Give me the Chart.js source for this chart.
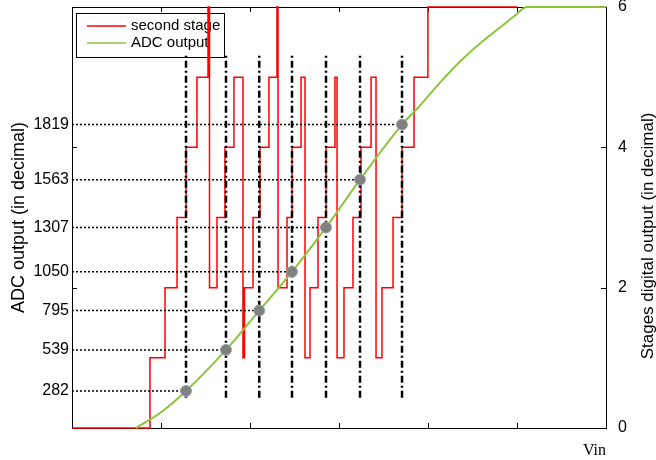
<!DOCTYPE html>
<html>
<head>
<meta charset="utf-8">
<script src="https://cdn.jsdelivr.net/npm/chart.js@4"></script>
<style>
  html, body { margin: 0; padding: 0; background: #fff; }
  canvas { display: block; }
</style>
</head>
<body>
<canvas id="adcChart" width="656" height="460"></canvas>
<script>
// second stage output: start of each step (Vin) and its level
const stageX = [0, 0.876, 1.045, 1.180, 1.281, 1.404, 1.528, 1.545, 1.629, 1.719, 1.820,
    1.921, 1.938, 2.034, 2.112, 2.213, 2.303, 2.315, 2.416, 2.472, 2.573,
    2.618, 2.674, 2.764, 2.854, 2.955, 2.978, 3.056, 3.157, 3.247, 3.360,
    3.416, 3.483, 3.607, 3.708, 3.843, 3.999, 5.0];
const stageLevel = [0, 1, 2, 3, 4, 5, 6, 2, 3, 4, 5,
    1, 2, 3, 4, 5, 6, 2, 3, 4, 5,
    1, 2, 3, 4, 5, 1, 2, 3, 4, 5,
    1, 2, 3, 4, 5, 6, 6];

// ADC output curve
const adcX = [0.719, 0.989, 1.281, 1.730, 2.104, 2.472, 2.854, 3.236, 3.708, 3.910, 4.135, 4.360, 4.584, 4.809, 4.978, 5.112, 6];
const adcY = [0, 0.214, 0.528, 1.113, 1.674, 2.226, 2.858, 3.539, 4.324, 4.595, 4.923, 5.223, 5.479, 5.708, 5.879, 6, 6];

// sampled points and their decimal codes
const sampleX = [1.281, 1.730, 2.104, 2.472, 2.854, 3.236, 3.708];
const sampleY = [0.528, 1.113, 1.674, 2.226, 2.858, 3.539, 4.324];
const adcLabels = ["282", "539", "795", "1050", "1307", "1563", "1819"];

const dashBottom = 0.43;
const dashTop = 5.34;
const vinTicks = [1, 2, 3, 4, 5];
const stageTicks = [0, 2, 4, 6];

const sans = "'Liberation Sans', Arial, sans-serif";

const hLines = [];
const vLines = [];
sampleX.forEach((x, i) => {
    hLines.push({x: 0, y: sampleY[i]}, {x: x, y: sampleY[i]}, {x: x, y: null});
    vLines.push({x: x, y: dashBottom}, {x: x, y: dashTop}, {x: x, y: null});
});

const framePlugin = {
    id: "frame",
    beforeDatasetsDraw(chart) {
        const ctx = chart.ctx;
        const a = chart.chartArea;
        const xs = chart.scales.x;
        const ys = chart.scales.y2;
        ctx.save();
        ctx.strokeStyle = "#000";
        ctx.lineWidth = 1;
        ctx.beginPath();
        ctx.moveTo(a.left, a.top + 0.5);
        ctx.lineTo(a.right, a.top + 0.5);
        vinTicks.forEach(v => {
            const px = Math.round(xs.getPixelForValue(v)) + 0.5;
            ctx.moveTo(px, a.bottom);
            ctx.lineTo(px, a.bottom - 5);
            ctx.moveTo(px, a.top);
            ctx.lineTo(px, a.top + 5);
        });
        [2, 4].forEach(v => {
            const py = Math.round(ys.getPixelForValue(v)) + 0.5;
            ctx.moveTo(a.right, py);
            ctx.lineTo(a.right - 5, py);
            ctx.moveTo(a.left, py);
            ctx.lineTo(a.left + 5, py);
        });
        ctx.stroke();

        // legend box
        ctx.fillStyle = "#fff";
        ctx.fillRect(76, 13, 148, 44);
        ctx.strokeRect(76.5, 13.5, 148, 44);
        ctx.lineWidth = 1.5;
        ctx.strokeStyle = "#ff0000";
        ctx.beginPath();
        ctx.moveTo(87, 26);
        ctx.lineTo(126, 26);
        ctx.stroke();
        ctx.strokeStyle = "#8cc43c";
        ctx.beginPath();
        ctx.moveTo(87, 43);
        ctx.lineTo(126, 43);
        ctx.stroke();
        ctx.fillStyle = "#000";
        ctx.font = "15px " + sans;
        ctx.textBaseline = "middle";
        ctx.fillText(chart.data.datasets[0].label, 131, 26);
        ctx.fillText(chart.data.datasets[1].label, 131, 43);
        ctx.restore();
    },
    afterDraw(chart) {
        const ctx = chart.ctx;
        ctx.save();
        ctx.translate(648, 236);
        ctx.rotate(-Math.PI / 2);
        ctx.fillStyle = "#000";
        ctx.font = "17px " + sans;
        ctx.textAlign = "center";
        ctx.textBaseline = "middle";
        ctx.fillText("Stages digital output (in decimal)", 0, 0);
        ctx.restore();
    }
};

const ctx = document.getElementById("adcChart").getContext("2d");

new Chart(ctx, {
    type: "scatter",
    data: {
        datasets: [{
            label: "second stage",
            data: stageX.map((x, i) => ({x: x, y: stageLevel[i]})),
            showLine: true,
            stepped: true,
            borderColor: "#ff0000",
            borderWidth: 1.5,
            pointRadius: 0,
            clip: 3,
            order: 5
        }, {
            label: "ADC output",
            data: adcX.map((x, i) => ({x: x, y: adcY[i]})),
            showLine: true,
            cubicInterpolationMode: "monotone",
            borderColor: "#8cc43c",
            borderWidth: 2,
            pointRadius: 0,
            clip: 3,
            order: 4
        }, {
            label: "levels",
            data: hLines,
            showLine: true,
            spanGaps: false,
            borderColor: "#000",
            borderWidth: 1.5,
            borderDash: [2, 2],
            pointRadius: 0,
            order: 3
        }, {
            label: "samples",
            data: vLines,
            showLine: true,
            spanGaps: false,
            borderColor: "#000",
            borderWidth: 2.5,
            borderDash: [7, 3, 2, 3],
            pointRadius: 0,
            order: 2
        }, {
            label: "points",
            data: sampleX.map((x, i) => ({x: x, y: sampleY[i]})),
            showLine: false,
            pointRadius: 5.5,
            backgroundColor: "#808080",
            borderColor: "#98a8a8",
            borderWidth: 1,
            order: 1
        }]
    },
    options: {
        responsive: false,
        animation: false,
        layout: {
            padding: {top: 7, right: 0, bottom: 0, left: 0}
        },
        plugins: {
            legend: {display: false},
            tooltip: {enabled: false}
        },
        scales: {
            x: {
                type: "linear",
                min: 0,
                max: 6,
                grid: {display: false, drawTicks: false},
                border: {color: "#000", width: 1},
                ticks: {display: false},
                title: {
                    display: true,
                    text: "Vin",
                    align: "end",
                    color: "#000",
                    font: {family: "'Liberation Serif', 'Times New Roman', serif", size: 16},
                    padding: {top: 0, bottom: 0}
                },
                afterFit(scale) {
                    scale.height = 32;
                }
            },
            y: {
                position: "left",
                min: 0,
                max: 6,
                grid: {display: false, drawTicks: false},
                border: {color: "#000", width: 1},
                afterBuildTicks(scale) {
                    scale.ticks = sampleY.map(v => ({value: v}));
                },
                ticks: {
                    autoSkip: false,
                    padding: 3,
                    color: "#000",
                    font: {family: sans, size: 16},
                    callback: (value, index) => adcLabels[index]
                },
                title: {
                    display: true,
                    text: "ADC output (in decimal)",
                    color: "#000",
                    font: {family: sans, size: 18},
                    padding: {top: 8, bottom: 0}
                },
                afterFit(scale) {
                    scale.width = 72;
                    scale.paddingTop = 0;
                    scale.paddingBottom = 0;
                }
            },
            y2: {
                position: "right",
                min: 0,
                max: 6,
                grid: {display: false, drawTicks: false},
                border: {color: "#000", width: 1},
                afterBuildTicks(scale) {
                    scale.ticks = stageTicks.map(v => ({value: v}));
                },
                ticks: {
                    padding: 12,
                    color: "#000",
                    font: {family: sans, size: 16}
                },
                afterFit(scale) {
                    scale.width = 50;
                    scale.paddingTop = 0;
                    scale.paddingBottom = 0;
                }
            }
        }
    },
    plugins: [framePlugin]
});
</script>
</body>
</html>
